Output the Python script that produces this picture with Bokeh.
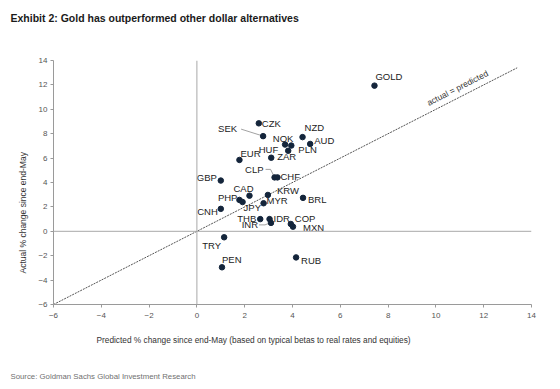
import math
from bokeh.plotting import figure
from bokeh.models import Range1d, Span, Label, Title, ColumnDataSource, FixedTicker
from bokeh.core.properties import value
from bokeh.embed import file_html
from bokeh.resources import INLINE

# ---------------- data ----------------
currencies = ["GOLD", "CZK", "SEK", "NZD", "AUD", "NOK", "PLN", "HUF", "ZAR", "EUR",
              "CLP", "CHF", "GBP", "CAD", "KRW", "PHP", "JPY", "MYR", "BRL", "CNH",
              "THB", "INR", "IDR", "COP", "MXN", "RUB", "TRY", "PEN"]
predicted = [7.43, 2.59, 2.77, 4.42, 4.74, 3.69, 3.95, 3.82, 3.11, 1.78,
             3.25, 3.37, 1.00, 2.20, 2.97, 1.78, 1.91, 2.79, 4.44, 1.00,
             2.65, 3.10, 3.04, 3.93, 4.02, 4.15, 1.14, 1.05]
actual = [11.94, 8.85, 7.80, 7.72, 7.16, 7.11, 7.03, 6.60, 6.03, 5.85,
          4.42, 4.42, 4.16, 2.92, 2.98, 2.57, 2.40, 2.30, 2.74, 1.84,
          1.00, 0.69, 1.00, 0.60, 0.38, -2.14, -0.49, -2.95]
axis_ticks = [-6, -4, -2, 0, 2, 4, 6, 8, 10, 12, 14]
diagonal = [-6, 13.4]

title_text = "Exhibit 2: Gold has outperformed other dollar alternatives"
source_text = "Source: Goldman Sachs Global Investment Research"
x_label = "Predicted % change since end-May (based on typical betas to real rates and equities)"
y_label = "Actual % change since end-May"
diag_label = "actual = predicted"

# ---------------- layout / style ----------------
W, H = 552, 387
FL, FT, FW, FH = 53, 60, 478, 244
FR, FB = W - FL - FW, H - FT - FH
X0, Y0 = -6.0, -6.0
PXX, PXY = FW / 20.0, FH / 20.0


def px_to_x(px):
    return X0 + (px - FL) / PXX


def py_to_y(py):
    return Y0 + (FT + FH - py) / PXY


# label placement: (align, dx px, dy px  [dy positive = down])
label_pos = {
    "GOLD": ("left", 1, -9), "CZK": ("left", 3, 0), "SEK": ("right", -26, -8),
    "NZD": ("left", 2, -10), "AUD": ("left", 4, -3), "NOK": ("center", -2, -6),
    "PLN": ("left", 7, 4), "HUF": ("right", -10, -1), "ZAR": ("left", 6, -1),
    "EUR": ("left", 1, -6), "CLP": ("right", -11, -8), "CHF": ("left", 3, -1),
    "GBP": ("right", -4, -3), "CAD": ("center", -6, -7), "KRW": ("left", 9, -4),
    "PHP": ("right", -2, -2), "JPY": ("left", 1, 5), "MYR": ("left", 3, -3),
    "BRL": ("left", 5, 2), "CNH": ("right", -3, 3), "THB": ("right", -4, -1),
    "INR": ("right", -13, 2), "IDR": ("left", 4, -1), "COP": ("left", 4, -5),
    "MXN": ("left", 10, 1), "RUB": ("left", 5, 3), "TRY": ("right", -3, 8),
    "PEN": ("left", 0, -8),
}
leaders = {
    "SEK": [(-22, -7), (-3, -1)],
    "CLP": [(-9, -8), (-4, -8), (-1, -2)],
    "INR": [(-12, 2), (-6, 2), (-1, 0)],
}

NAVY = "#14253b"
FONT = "Liberation Sans"

p = figure(width=W, height=H, output_backend="svg", toolbar_location=None,
           x_range=Range1d(-6, 14), y_range=Range1d(-6, 14),
           min_border_left=FL, min_border_right=FR, min_border_top=FT, min_border_bottom=FB)
p.outline_line_color = None
p.background_fill_color = "white"
p.border_fill_color = "white"
p.xgrid.visible = False
p.ygrid.visible = False

for ax in (p.xaxis[0], p.yaxis[0]):
    ax.ticker = FixedTicker(ticks=axis_ticks)
    ax.axis_line_color = "#9a9a9a"
    ax.major_tick_line_color = "#9a9a9a"
    ax.major_tick_out = 3
    ax.major_tick_in = 0
    ax.minor_tick_line_color = None
    ax.major_label_text_font = FONT
    ax.major_label_text_font_size = "8px"
    ax.major_label_text_color = "#555555"
p.xaxis.major_label_standoff = 5
p.yaxis.major_label_standoff = 3

p.add_layout(Span(location=0, dimension="height", line_color="#a8a8a8", line_width=1))
p.add_layout(Span(location=0, dimension="width", line_color="#a8a8a8", line_width=1))

p.line(diagonal, diagonal, line_color="#555555", line_width=1, line_dash="2 1")

# leader lines
lx, ly = [], []
for name, pts in leaders.items():
    i = currencies.index(name)
    lx.append([predicted[i] + dx / PXX for dx, dy in pts])
    ly.append([actual[i] - dy / PXY for dx, dy in pts])
p.multi_line(lx, ly, line_color="#8a8a8a", line_width=0.8)

p.scatter(predicted, actual, size=5.5, fill_color=NAVY, line_color=NAVY)

src = ColumnDataSource(dict(
    x=predicted, y=actual, t=currencies,
    align=[label_pos[c][0] for c in currencies],
    dx=[label_pos[c][1] for c in currencies],
    dy=[label_pos[c][2] for c in currencies],
))
p.text("x", "y", text="t", source=src, x_offset="dx", y_offset="dy",
       text_align="align", text_baseline="middle", text_font=value(FONT),
       text_font_size="9.5px", text_color="#222222")

ang = math.atan(PXY / PXX)
p.add_layout(Label(x=px_to_x(457), y=py_to_y(87.5), text=diag_label, angle=ang,
                   text_align="center", text_baseline="middle",
                   text_font=FONT, text_font_size="8.5px", text_color="#333333"))

# ---- above: title (extra empty lines lift it toward the top of the panel)
p.add_layout(Title(text=title_text + "\n\n\n", align="left", offset=10 - FL, standoff=2,
                   text_font=FONT, text_font_style="bold", text_font_size="10.5px",
                   text_color="#1a1a1a"), "above")

# ---- below: (x axis), x label, source
p.add_layout(Title(text=x_label, align="left", offset=96 - FL, standoff=24,
                   text_font=FONT, text_font_style="normal", text_font_size="8.3px",
                   text_color="#333333"), "below")
p.add_layout(Title(text="\n" + source_text, align="left", offset=10 - FL, standoff=8,
                   text_font=FONT, text_font_style="normal", text_font_size="7.8px",
                   text_color="#707070"), "below")

# ---- left: (y axis), y label
p.add_layout(Title(text=y_label, align="left", offset=31, standoff=16,
                   text_font=FONT, text_font_style="normal", text_font_size="8.5px",
                   text_color="#333333"), "left")

open("out.html", "w").write(file_html(p, INLINE))
